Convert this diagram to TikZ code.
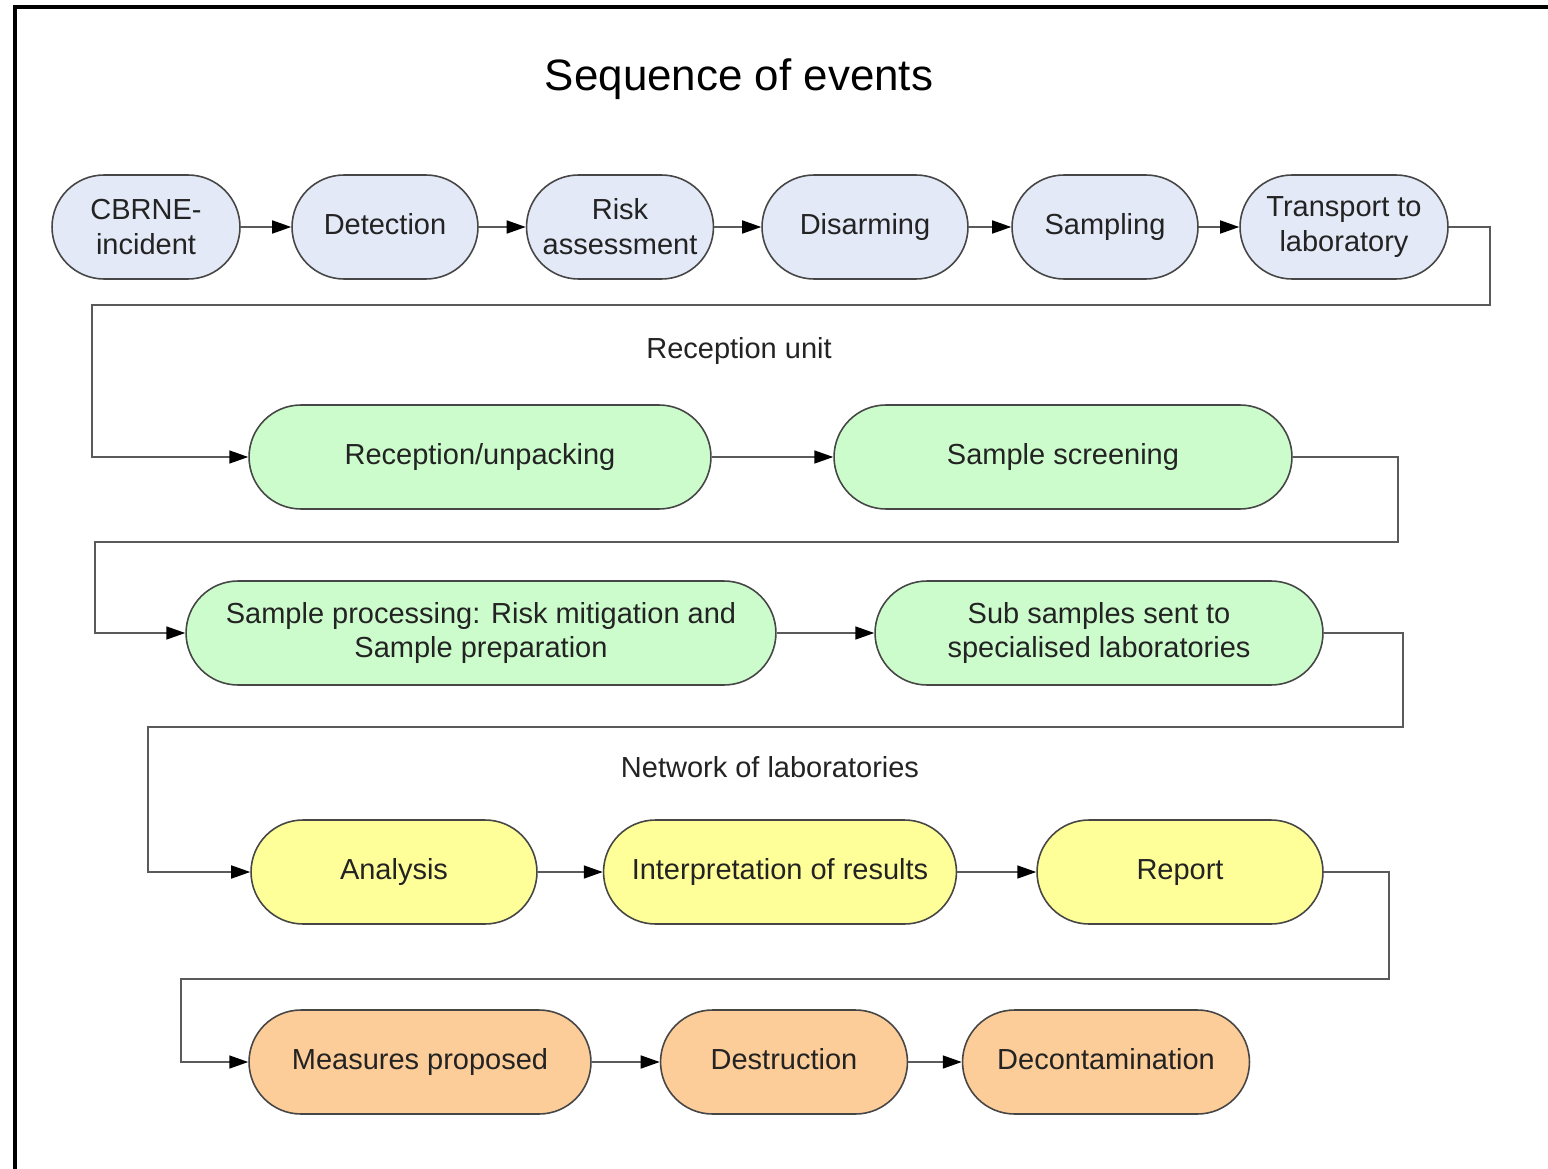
\documentclass[tikz,border=0pt]{standalone}
\usepackage{fontspec}
\setmainfont{Liberation Sans}
\usetikzlibrary{arrows.meta}
\definecolor{bluefill}{RGB}{227,233,246}
\definecolor{greenfill}{RGB}{204,252,204}
\definecolor{yellowfill}{RGB}{255,255,153}
\definecolor{orangefill}{RGB}{252,204,153}
\definecolor{edgecol}{RGB}{70,70,70}
\definecolor{linecol}{RGB}{90,90,90}
\definecolor{textcol}{RGB}{35,35,35}
\begin{document}
\begin{tikzpicture}[x=0.02cm,y=-0.02cm,
  stage/.style={draw=edgecol, line width=0.9pt, rounded corners=1.04cm,
    minimum height=2.08cm, inner sep=0pt, align=center, text=textcol,
    font=\fontsize{16.5}{19.8}\selectfont},
  oneline/.style={text height=12pt, text depth=3.5pt},
  bluebox/.style={stage, fill=bluefill},
  greenbox/.style={stage, fill=greenfill},
  yellowbox/.style={stage, fill=yellowfill},
  orangebox/.style={stage, fill=orangefill},
  conn/.style={draw=linecol, line width=0.9pt,
    -{Triangle[length=0.38cm,width=0.26cm,color=black]}},
  label/.style={text=textcol, font=\fontsize{16.5}{19.8}\selectfont}
]
\useasboundingbox (0,0) rectangle (1548,1169);
\clip (0,0) rectangle (1548,1169);
\fill[white] (0,0) rectangle (1548,1169);
\draw[line width=2.3pt, black] (15,7) rectangle (1620,1240);

\node[text=black, font=\fontsize{25}{30}\selectfont] (title) at (739,79) {Sequence of events};

% row 1
\node[bluebox, minimum width=3.76cm] (a1) at (146,227) {CBRNE-\\incident};
\node[bluebox, oneline, minimum width=3.72cm] (a2) at (385,227) {Detection};
\node[bluebox, minimum width=3.74cm] (a3) at (620,227) {Risk\\assessment};
\node[bluebox, oneline, minimum width=4.12cm] (a4) at (865,227) {Disarming};
\node[bluebox, oneline, minimum width=3.72cm] (a5) at (1105,227) {Sampling};
\node[bluebox, minimum width=4.16cm] (a6) at (1344,227) {Transport to\\laboratory};

\node[label] (lab1) at (739,351) {Reception unit};

% row 2
\node[greenbox, oneline, minimum width=9.24cm] (b1) at (480,457) {Reception/unpacking};
\node[greenbox, oneline, minimum width=9.16cm] (b2) at (1063,457) {Sample screening};

% row 3
\node[greenbox, minimum width=11.8cm] (c1) at (481,633) {Sample processing: Risk mitigation and\\Sample preparation};
\node[greenbox, minimum width=8.96cm] (c2) at (1099,633) {Sub samples sent to\\specialised laboratories};

\node[label] (lab2) at (770,767) {Network of laboratories};

% row 4
\node[yellowbox, oneline, minimum width=5.72cm] (d1) at (394,872) {Analysis};
\node[yellowbox, oneline, minimum width=7.06cm] (d2) at (780,872) {Interpretation of results};
\node[yellowbox, oneline, minimum width=5.72cm] (d3) at (1180,872) {Report};

% row 5
\node[orangebox, oneline, minimum width=6.84cm] (e1) at (420,1062) {Measures proposed};
\node[orangebox, oneline, minimum width=4.94cm] (e2) at (784,1062) {Destruction};
\node[orangebox, oneline, minimum width=5.74cm] (e3) at (1106,1062) {Decontamination};

% bends
\coordinate (j1a) at (1490,305);
\coordinate (j1b) at (92,305);
\coordinate (j2a) at (1398,542);
\coordinate (j2b) at (95,542);
\coordinate (j3a) at (1403,727);
\coordinate (j3b) at (148,727);
\coordinate (j4a) at (1389,979);
\coordinate (j4b) at (181,979);

% connectors
\draw[conn] (a1) -- (a2);
\draw[conn] (a2) -- (a3);
\draw[conn] (a3) -- (a4);
\draw[conn] (a4) -- (a5);
\draw[conn] (a5) -- (a6);
\draw[conn] (a6.east) -| (j1a) -- (j1b) |- (b1.west);
\draw[conn] (b1) -- (b2);
\draw[conn] (b2.east) -| (j2a) -- (j2b) |- (c1.west);
\draw[conn] (c1) -- (c2);
\draw[conn] (c2.east) -| (j3a) -- (j3b) |- (d1.west);
\draw[conn] (d1) -- (d2);
\draw[conn] (d2) -- (d3);
\draw[conn] (d3.east) -| (j4a) -- (j4b) |- (e1.west);
\draw[conn] (e1) -- (e2);
\draw[conn] (e2) -- (e3);
\end{tikzpicture}
\end{document}
